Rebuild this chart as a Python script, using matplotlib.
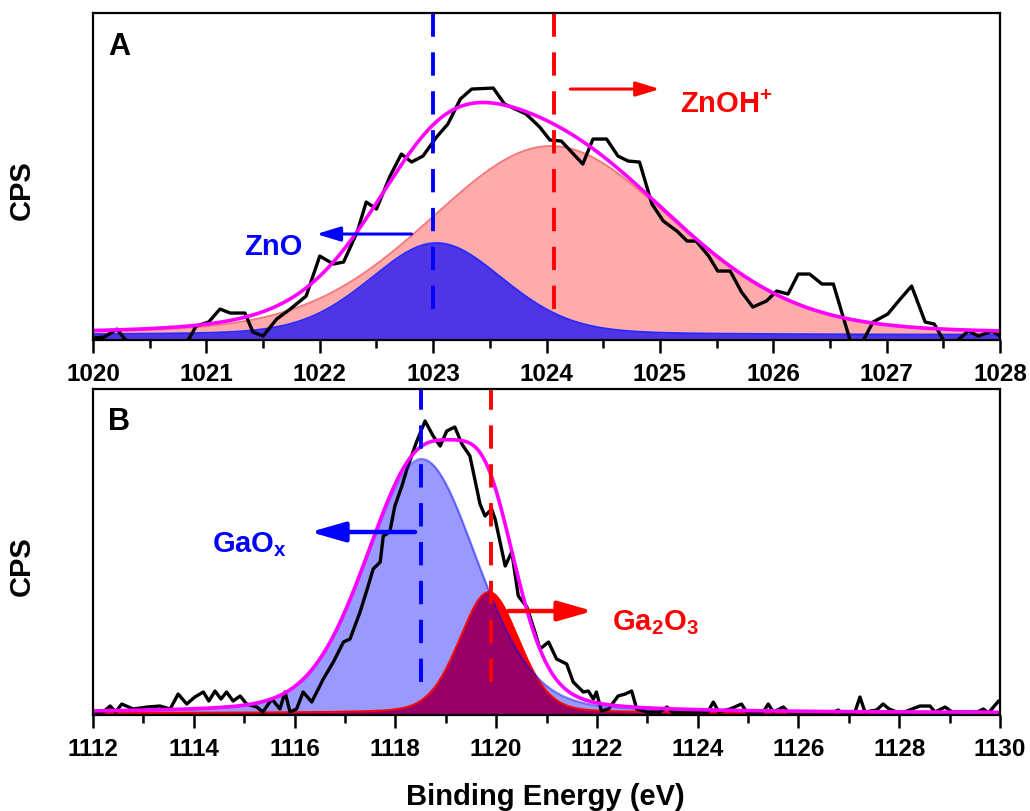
import matplotlib as mpl
mpl.use('Agg')
import matplotlib.pyplot as plt
import numpy as np
from matplotlib.ticker import MultipleLocator

# ---------------- Zn 2p3/2 region (panel A) ----------------
energyA = [1020.00, 1020.10, 1020.21, 1020.28, 1020.40, 1020.60, 1020.83, 1020.91, 1021.02, 1021.12,
           1021.21, 1021.34, 1021.41, 1021.50, 1021.62, 1021.74, 1021.88, 1022.00, 1022.12, 1022.21,
           1022.33, 1022.41, 1022.50, 1022.62, 1022.72, 1022.81, 1022.91, 1023.03, 1023.13, 1023.24,
           1023.34, 1023.53, 1023.63, 1023.82, 1023.94, 1024.03, 1024.13, 1024.32, 1024.41, 1024.53,
           1024.63, 1024.72, 1024.82, 1024.93, 1025.03, 1025.15, 1025.24, 1025.32, 1025.43, 1025.51,
           1025.62, 1025.72, 1025.82, 1025.94, 1026.03, 1026.13, 1026.22, 1026.32, 1026.43, 1026.53,
           1026.69, 1026.79, 1026.88, 1027.01, 1027.12, 1027.22, 1027.34, 1027.42, 1027.51, 1027.60,
           1027.72, 1027.81, 1027.93, 1028.00]
cpsA = [2, 3, 11, 1, -10, -10, -2, 14, 18, 31,
        27, 27, 8, 4, 21, 31, 44, 84, 76, 78,
        108, 138, 131, 164, 186, 178, 184, 203, 216, 241,
        251, 252, 236, 226, 213, 200, 199, 176, 201, 201,
        184, 179, 178, 136, 119, 109, 99, 99, 84, 69,
        69, 48, 33, 39, 49, 46, 66, 66, 56, 56,
        -5, -1, 18, 26, 41, 54, 18, 16, -2, -3,
        9, 4, 9, 4]

# fitted components: center, fwhm, height (GL mix shared)
peakNamesA = ['ZnO', 'ZnOH']
centersA = [1023.03, 1024.04]
fwhmA = [1.40, 2.56]
heightsA = [92, 189]
baseA = 5
dashA = [1023.00, 1024.07]

# ---------------- Ga 2p3/2 region (panel B) ----------------
energyB = [1112.00, 1112.20, 1112.34, 1112.45, 1112.57, 1112.80, 1113.07, 1113.33, 1113.53, 1113.69,
           1113.86, 1114.02, 1114.19, 1114.30, 1114.42, 1114.54, 1114.65, 1114.78, 1114.92, 1115.05,
           1115.25, 1115.37, 1115.55, 1115.71, 1115.81, 1115.91, 1116.04, 1116.17, 1116.34, 1116.57,
           1116.77, 1116.97, 1117.10, 1117.30, 1117.46, 1117.56, 1117.70, 1117.76, 1117.89, 1117.99,
           1118.13, 1118.23, 1118.42, 1118.59, 1118.75, 1118.89, 1119.02, 1119.18, 1119.32, 1119.48,
           1119.68, 1119.78, 1119.91, 1119.98, 1120.18, 1120.31, 1120.44, 1120.61, 1120.77, 1120.87,
           1121.04, 1121.20, 1121.40, 1121.53, 1121.73, 1121.83, 1121.93, 1121.99, 1122.09, 1122.23,
           1122.42, 1122.56, 1122.69, 1122.79, 1122.99, 1123.25, 1123.39, 1123.50, 1124.20, 1124.31,
           1124.42, 1124.64, 1124.87, 1124.97, 1125.30, 1125.40, 1125.50, 1125.70, 1125.80, 1126.70,
           1126.79, 1126.88, 1127.12, 1127.22, 1127.32, 1127.55, 1127.68, 1127.80, 1127.95, 1128.10,
           1128.41, 1128.61, 1128.71, 1128.91, 1129.05, 1129.55, 1129.67, 1129.77, 1129.97, 1130.00]
cpsB = [3, 3, 9, 3, 11, 6, 8, 9, 6, 21,
        11, 18, 23, 14, 24, 16, 23, 14, 19, 11,
        8, 3, 16, 6, 23, 3, 6, 23, 13, 36,
        53, 73, 76, 103, 129, 146, 153, 179, 183, 209,
        229, 246, 273, 294, 279, 269, 284, 288, 271, 259,
        211, 199, 206, 196, 149, 163, 119, 108, 83, 66,
        73, 56, 51, 33, 23, 24, 16, 23, 4, 6,
        19, 21, 24, 6, 3, 3, 8, 3, 3, 13,
        3, 6, 11, 3, 3, 11, 3, 8, 3, 3,
        5, 1, 3, 18, 3, 5, 11, 6, 3, 3,
        9, 9, 3, 8, 3, 3, 6, 2, 14, 14]

peakNamesB = ['GaOx', 'Ga2O3']
centersB = [1118.52, 1119.86]
fwhmB = [2.60, 1.40]
heightsB = [254, 121]
baseB = 2
dashB = [1118.50, 1119.90]

glMix = 0.2


def Peak(x, center, fwhm, height):
    # Gaussian-Lorentzian sum shape, as used by the XPS fit
    u = 4 * (x - center) ** 2 / fwhm ** 2
    return height * ((1 - glMix) * np.exp(-np.log(2) * u) + glMix / (1 + u))


def Style_Axis(ax, xmin, xmax, step, top):
    ax.set_xlim(xmin, xmax)
    ax.set_ylim(0, top)
    ax.set_xticks(np.arange(xmin, xmax + step / 2, step))
    ax.xaxis.set_minor_locator(MultipleLocator(step / 2))
    ax.set_yticks([])
    ax.tick_params(axis='x', which='major', direction='out', length=9, width=1.8,
                   labelsize=17.5, pad=7)
    ax.tick_params(axis='x', which='minor', direction='out', length=6, width=1.8)
    for spine in ax.spines.values():
        spine.set_linewidth(1.6)
    ax.set_ylabel('CPS', fontsize=21, fontweight='bold')


def Arrow(ax, start, end, y, color, lw, headLength, headWidth):
    ax.annotate('', xy=(end, y), xytext=(start, y),
                arrowprops=dict(arrowstyle='-|>,head_length=%g,head_width=%g' % (headLength, headWidth),
                                color=color, lw=lw, shrinkA=0, shrinkB=0, mutation_scale=20))


plt.rcParams['font.family'] = ['Liberation Sans', 'DejaVu Sans']
plt.rcParams['font.weight'] = 'bold'
plt.rcParams['mathtext.fontset'] = 'custom'
for key in ['mathtext.rm', 'mathtext.it', 'mathtext.bf', 'mathtext.sf']:
    plt.rcParams[key] = 'Liberation Sans:bold'

fig = plt.figure(figsize=(10.3, 8.12), dpi=100)
axA = fig.add_axes([0.0903, 0.580, 0.8806, 0.4027])
axB = fig.add_axes([0.0903, 0.1182, 0.8806, 0.4015])

# ---- panel A ----
xA = np.linspace(1020, 1028, 800)
zno = Peak(xA, centersA[0], fwhmA[0], heightsA[0])
znoh = Peak(xA, centersA[1], fwhmA[1], heightsA[1])

axA.fill_between(xA, 0, baseA + znoh, color='red', alpha=0.33, lw=0)
axA.plot(xA, baseA + znoh, color='#f27a7a', lw=1.4)
axA.fill_between(xA, 0, baseA + zno, color='blue', alpha=0.69, lw=0)
axA.plot(xA, baseA + zno, color='#2a2aff', lw=1.4)
axA.plot(energyA, cpsA, color='black', lw=2.4)
axA.plot(xA, baseA + zno + znoh, color='#ff00ff', lw=2.6)
axA.vlines(dashA[0], 31, 327, color='blue', lw=2.8, linestyles=(0, (6, 4)))
axA.vlines(dashA[1], 31, 327, color='red', lw=2.8, linestyles=(0, (6, 4)))

Style_Axis(axA, 1020, 1028, 1, 327)
axA.yaxis.set_label_coords(-0.063, 0.46)
axA.text(0.0165, 0.875, 'A', transform=axA.transAxes, fontsize=22, fontweight='bold')

Arrow(axA, 1022.81, 1021.97, 106, 'blue', 2.2, 0.72, 0.22)
axA.text(1021.85, 86, 'ZnO', color='blue', fontsize=21, ha='right', va='baseline')
Arrow(axA, 1024.21, 1025.00, 251, 'red', 2.2, 0.72, 0.22)
axA.text(1025.18, 228, 'ZnOH$^{+}$', color='red', fontsize=21, ha='left', va='baseline')

# ---- panel B ----
xB = np.linspace(1112, 1130, 1200)
gaox = Peak(xB, centersB[0], fwhmB[0], heightsB[0])
ga2o3 = Peak(xB, centersB[1], fwhmB[1], heightsB[1])

axB.fill_between(xB, 0, baseB + ga2o3, color='red', lw=0)
axB.plot(xB, baseB + ga2o3, color='red', lw=1.4)
axB.plot(energyB, cpsB, color='black', lw=2.4)
axB.fill_between(xB, 0, baseB + gaox, color='blue', alpha=0.4, lw=0)
axB.plot(xB, baseB + gaox, color='blue', alpha=0.45, lw=1.6)
axB.plot(xB, baseB + gaox + ga2o3, color='#ff00ff', lw=2.6)
axB.vlines(dashB[0], 33, 326, color='blue', lw=2.8, linestyles=(0, (6, 4)))
axB.vlines(dashB[1], 33, 326, color='red', lw=2.8, linestyles=(0, (6, 4)))

Style_Axis(axB, 1112, 1130, 2, 326)
axB.yaxis.set_label_coords(-0.063, 0.46)
axB.text(0.0165, 0.877, 'B', transform=axB.transAxes, fontsize=22, fontweight='bold')

Arrow(axB, 1118.39, 1116.31, 183, 'blue', 3.2, 1.05, 0.3)
axB.text(1115.84, 164, 'GaO$_{\\mathrm{x}}$', color='blue', fontsize=21, ha='right', va='baseline')
Arrow(axB, 1120.24, 1121.92, 104, 'red', 3.2, 1.05, 0.3)
axB.text(1122.30, 86, 'Ga$_{2}$O$_{3}$', color='red', fontsize=21, ha='left', va='baseline')

fig.text(545 / 1030, 7 / 812, 'Binding Energy (eV)', fontsize=21, fontweight='bold',
         ha='center', va='baseline')

plt.savefig('out.png', dpi=100)
plt.close()
